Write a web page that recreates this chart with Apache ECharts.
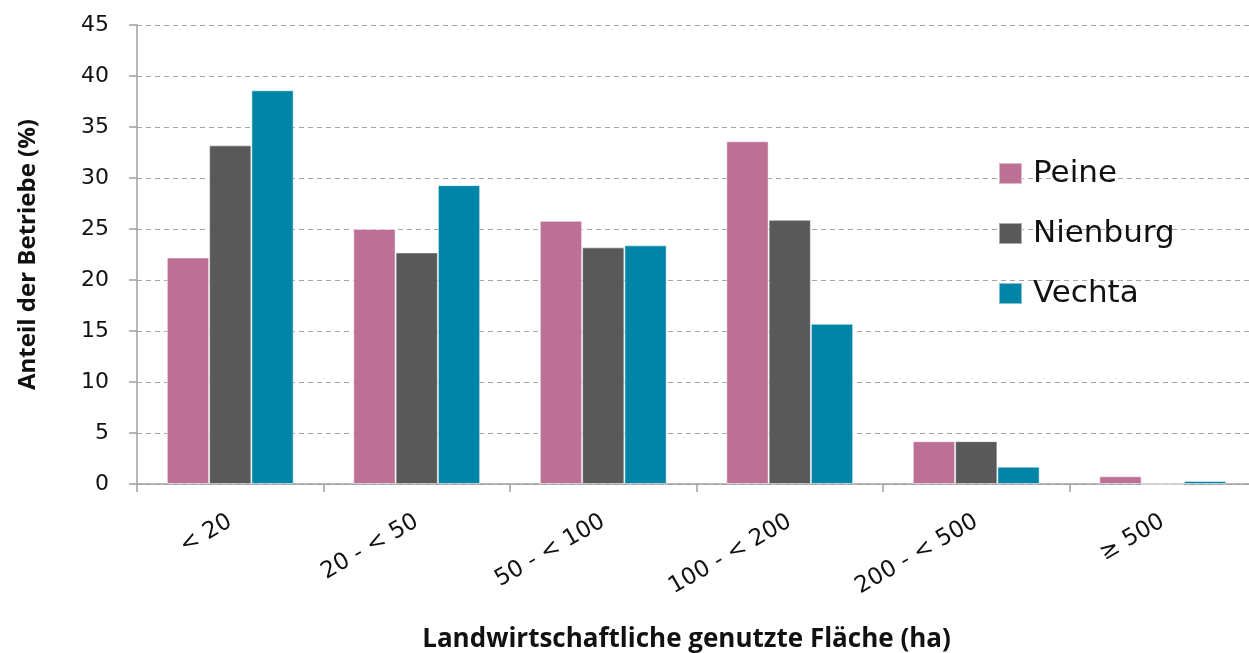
<!DOCTYPE html>
<html><head><meta charset="utf-8">
<script src="https://cdn.jsdelivr.net/npm/echarts@6/dist/echarts.min.js"></script>
<style>html,body{margin:0;padding:0;background:#fff}#c{width:1249px;height:653px}</style>
</head><body><div id="c"></div>
<script>
const categories = ['< 20', '20 - < 50', '50 - < 100', '100 - < 200', '200 - < 500', '≥ 500'];
const peine = [22.2, 25.0, 25.8, 33.6, 4.2, 0.75];
const nienburg = [33.2, 22.7, 23.2, 25.9, 4.2, 0];
const vechta = [38.6, 29.3, 23.4, 15.7, 1.7, 0.3];
const seriesNames = ['Peine', 'Nienburg', 'Vechta'];
const colors = ['#BC7093', '#595959', '#0085A6'];

const chart = echarts.init(document.getElementById('c'), null, {renderer: 'canvas'});
const data = [peine, nienburg, vechta];
chart.setOption({
  animation: false,
  grid: {left: 137, top: 25, width: 1119, height: 459, containLabel: false, outerBoundsMode: 'none'},
  legend: {
    orient: 'vertical', left: 998, top: 158, itemWidth: 23, itemHeight: 21, itemGap: 29,
    padding: 0, icon: 'rect',
    textStyle: {fontFamily: 'DejaVu Sans', fontSize: 31, lineHeight: 21, color: '#111', padding: [0,0,0,6]},
    data: seriesNames
  },
  xAxis: {
    type: 'category', data: categories,
    axisLine: {lineStyle: {color: '#A0A0A0', width: 1.5}},
    axisTick: {show: true, length: 8, lineStyle: {color: '#A0A0A0', width: 1.5}},
    axisLabel: {rotate: 30, margin: 36, fontFamily: 'DejaVu Sans', fontSize: 23, color: '#111'},
    name: 'Landwirtschaftliche genutzte Fläche (ha)', nameLocation: 'middle', nameGap: 143,
    nameTextStyle: {fontFamily: 'Open Sans', fontWeight: 'bold', fontSize: 26, color: '#111', padding: [0, 20, 0, 0]}
  },
  yAxis: {
    type: 'value', min: 0, max: 45, interval: 5,
    axisLine: {show: true, lineStyle: {color: '#A0A0A0', width: 1.5}},
    axisTick: {show: true, length: 8, lineStyle: {color: '#A0A0A0', width: 1.5}},
    axisLabel: {fontFamily: 'DejaVu Sans', fontSize: 22, color: '#111', margin: 28},
    splitLine: {show: true, lineStyle: {color: '#A6A6A6', type: [5, 4], width: 1}},
    name: 'Anteil der Betriebe (%)', nameLocation: 'middle', nameGap: 97, nameRotate: 90,
    nameTextStyle: {fontFamily: 'Open Sans', fontWeight: 'bold', fontSize: 24, color: '#111'}
  },
  series: seriesNames.map((n, i) => ({
    name: n, type: 'bar', data: data[i], barGap: '0%', barCategoryGap: '32%',
    itemStyle: {color: colors[i], borderColor: 'rgba(255,255,255,0.5)', borderWidth: 1}
  }))
});
</script></body></html>
